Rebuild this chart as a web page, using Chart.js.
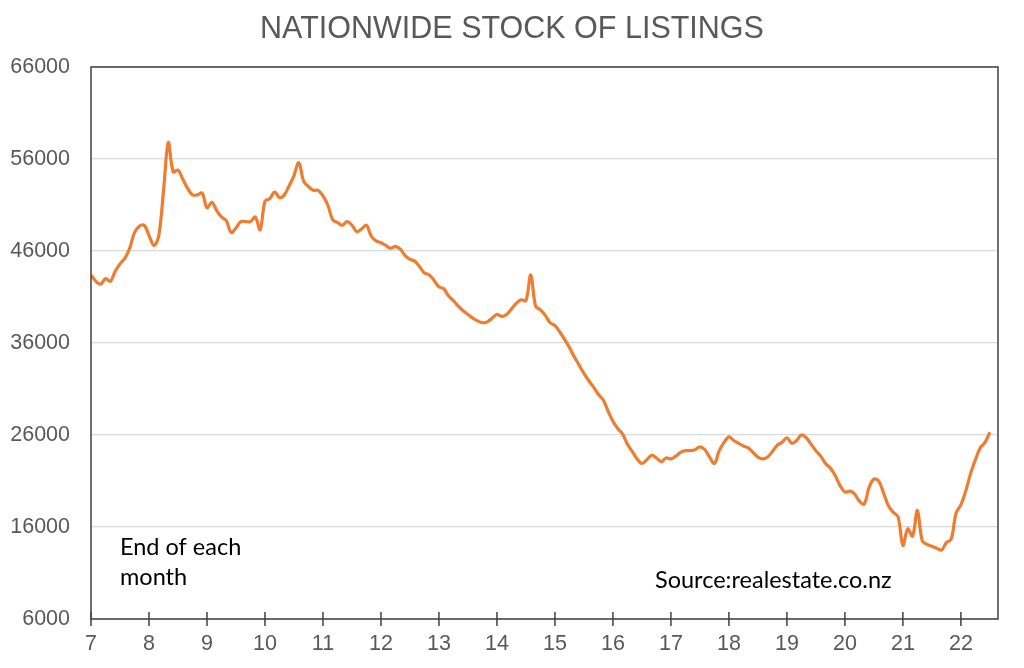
<!DOCTYPE html>
<html>
<head>
<meta charset="utf-8">
<script src="https://cdn.jsdelivr.net/npm/chart.js@4.4.1/dist/chart.umd.min.js"></script>
<style>
  html, body { margin: 0; padding: 0; background: #ffffff; }
  #wrap { width: 1024px; height: 668px; position: relative; }
</style>
</head>
<body>
<div id="wrap"><canvas id="c" width="1024" height="668"></canvas></div>
<script>
// ---- data (end of each month, Jan 2007 onward) ----
const titleText = 'NATIONWIDE STOCK OF LISTINGS';
const startYear = 7;            // first point = Jan 2007
const yearTicks = [7, 8, 9, 10, 11, 12, 13, 14, 15, 16, 17, 18, 19, 20, 21, 22];
const yTicks = [6000, 16000, 26000, 36000, 46000, 56000, 66000];
const noteLines = ['End of each', 'month'];
const sourceText = 'Source:realestate.co.nz';

const listings2007_2010 = [
  43400, 42700, 42400, 43000, 42700, 43800, 44600, 45200, 46300, 48000, 48700, 48800,
  47700, 46600, 47600, 52500, 57800, 54600, 54800, 53800, 52800, 52100, 52100, 52300,
  50700, 51300, 50400, 49700, 49300, 48000, 48500, 49200, 49200, 49200, 49700, 48300,
  51400, 51700, 52400, 51800, 52100, 53100, 54200, 55600, 53600, 53000, 52600, 52600
];
const listings2011_2014 = [
  52000, 51000, 49400, 49100, 48800, 49200, 48800, 48100, 48400, 48800, 47600, 47100,
  46900, 46600, 46300, 46500, 46200, 45500, 45100, 44900, 44300, 43600, 43400, 42800,
  42100, 41900, 41100, 40600, 40000, 39500, 39100, 38700, 38400, 38200, 38300, 38700,
  39100, 38900, 39100, 39700, 40300, 40700, 40600, 43400, 40000, 39600, 39000, 38200
];
const listings2015_2018 = [
  37900, 37200, 36400, 35500, 34500, 33600, 32700, 31900, 31200, 30400, 29800, 28600,
  27500, 26700, 26100, 25000, 24200, 23400, 22900, 23300, 23800, 23500, 23100, 23500,
  23400, 23700, 24100, 24300, 24300, 24400, 24700, 24400, 23600, 22900, 24300, 25200,
  25800, 25400, 25100, 24800, 24600, 24100, 23600, 23400, 23600, 24200, 24900, 25200
];
const listings2019_2022 = [
  25700, 25100, 25400, 26000, 25700, 25000, 24300, 23700, 22900, 22400, 21600, 20500,
  19800, 19900, 19600, 18800, 18500, 20300, 21200, 21000, 19700, 18300, 17600, 17100,
  14000, 15800, 15000, 17800, 14500, 14100, 13900, 13700, 13500, 14300, 14700, 17500,
  18400, 19900, 21800, 23300, 24600, 25200, 26300
];
const listings = [].concat(listings2007_2010, listings2011_2014, listings2015_2018, listings2019_2022);

// ---- build points for the library ----
const points = listings.map((v, i) => ({ x: startYear + i / 12, y: v }));

const GREY = '#595959';

const framePlugin = {
  id: 'frame',
  afterDraw(chart) {
    const { ctx, chartArea: a, scales } = chart;
    ctx.save();
    // plot box
    ctx.strokeStyle = '#404040';
    ctx.lineWidth = 1.5;
    ctx.strokeRect(a.left, a.top, a.right - a.left, a.bottom - a.top);
    // x tick marks crossing the axis
    yearTicks.forEach(t => {
      const px = scales.x.getPixelForValue(t);
      ctx.beginPath();
      ctx.moveTo(px, a.bottom - 7);
      ctx.lineTo(px, a.bottom + 7);
      ctx.stroke();
    });
    // title
    ctx.fillStyle = GREY;
    ctx.font = '30.5px "Liberation Sans", Arial, sans-serif';
    ctx.textAlign = 'center';
    ctx.textBaseline = 'middle';
    ctx.fillText(titleText, 512, 30);
    // notes
    ctx.fillStyle = '#000000';
    ctx.font = '23.5px Lato, "Open Sans", sans-serif';
    ctx.textAlign = 'left';
    ctx.fillText(noteLines[0], a.left + 29, 547);
    ctx.fillText(noteLines[1], a.left + 29, 577);
    ctx.fillText(sourceText, 655, 580);
    ctx.restore();
  }
};

new Chart(document.getElementById('c'), {
  type: 'line',
  data: {
    datasets: [{
      data: points,
      borderColor: '#ED7D31',
      borderWidth: 3.2,
      pointRadius: 0,
      tension: 0.35,
      fill: false
    }]
  },
  options: {
    responsive: false,
    animation: false,
    devicePixelRatio: 1,
    layout: { padding: { top: 67, right: 26, bottom: 0, left: 0 } },
    plugins: {
      legend: { display: false },
      title: { display: false },
      tooltip: { enabled: false }
    },
    scales: {
      x: {
        type: 'linear',
        min: startYear,
        max: 22.64,
        afterBuildTicks(scale) {
          scale.ticks = yearTicks.map(v => ({ value: v }));
        },
        afterFit(scale) { scale.height = 49; },
        grid: { display: false, drawTicks: false },
        border: { display: false },
        ticks: {
          color: GREY,
          padding: 12,
          font: { family: '"Liberation Sans", Arial, sans-serif', size: 21.5 },
          maxRotation: 0,
          autoSkip: false,
          callback: v => String(v)
        }
      },
      y: {
        min: 6000,
        max: 66000,
        afterBuildTicks(scale) {
          scale.ticks = yTicks.map(v => ({ value: v }));
        },
        afterFit(scale) { scale.width = 91; },
        grid: { color: '#d9d9d9', lineWidth: 1.2, drawTicks: false },
        border: { display: false },
        ticks: {
          color: GREY,
          padding: 21,
          font: { family: '"Liberation Sans", Arial, sans-serif', size: 21.5 },
          callback: v => String(v)
        }
      }
    }
  },
  plugins: [framePlugin]
});
</script>
</body>
</html>
